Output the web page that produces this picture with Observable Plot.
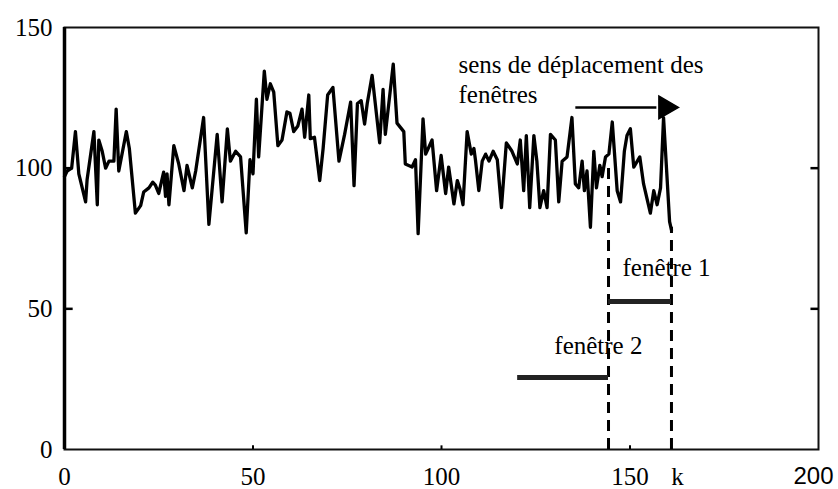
<!DOCTYPE html>
<html>
<head>
<meta charset="utf-8">
<script src="https://cdn.jsdelivr.net/npm/d3@7"></script>
<script src="https://cdn.jsdelivr.net/npm/@observablehq/plot@0.6"></script>
<style>
  html, body { margin: 0; padding: 0; background: #fff; }
</style>
</head>
<body>
<div id="chart"></div>
<script>
// Series: sample index (x) and value (y)
const seriesX = [0,0.7,1.9,2.9,3.8,5.6,6.0,7.8,8.7,9.1,10.0,10.9,11.8,13.1,13.7,14.4,16.4,17.2,18.8,20.2,21.0,22.4,23.4,24.1,25.0,26.3,26.8,27.2,27.7,29.0,30.3,31.7,32.5,33.9,34.8,36.9,38.3,40.5,41.8,43.2,44.0,45.4,46.7,48.2,49.2,50.0,50.9,51.5,53.0,53.7,54.6,55.5,56.6,57.7,59.0,59.8,60.8,61.9,63.0,63.7,64.8,65.2,66.3,67.7,68.6,69.8,71.2,72.8,74.3,75.9,76.8,77.7,78.7,79.6,80.3,81.6,83.6,84.5,85.1,87.2,88.2,90.0,90.4,92.2,93.1,93.8,95.1,95.8,97.5,98.7,99.9,101.1,101.9,103.3,104.2,104.9,105.7,106.8,107.9,108.6,109.0,109.9,110.8,111.7,112.6,113.7,114.8,115.9,117.2,118.7,120.1,120.9,121.8,122.5,123.4,124.5,125.3,126.1,127.1,128.0,128.9,130.2,131.1,132.0,133.3,134.6,135.5,136.4,137.3,137.9,138.6,139.5,140.4,141.1,142.0,142.6,143.5,144.4,145.3,146.6,147.5,148.5,149.2,150.1,151.0,152.6,153.6,155.4,156.3,157.2,158.1,158.9,160.5,161.0];
const seriesY = [97,99,100,113,98,88,96,113,87,110,106,100,102.5,102.5,121,99,113,107,84,86.7,91.5,93,95,94,91,98.6,90,98,87,108,101.5,92,101,93,99,118,80,112,88,114,102.5,106,104,77,103,98,124.5,104,134.5,124.5,130,127,108,110,120,119.5,113,115,121,111,126,110.5,111,95.6,107,126,128.7,102.5,112,123.5,93.8,123,124,115.7,123,133,109,128,112,137,116,113,101.5,100.4,103,76.7,117.5,105,110,92,104.5,91,100.4,87.3,95.6,92.6,87,113,105,107,103,92,102.5,105,102.5,106,103,86,109,106,101.5,110,92,111.6,86,111.6,102.5,86,92,86,112,110,88,102.5,104,118,94.4,93,102.5,92,99,79,106,93,101,97,104,105,116.4,92,88,106,111.6,114,100.4,104,94.4,84,92,87,93,118,81,78];

// Axis ticks and labels
const yTickValues = [0, 50, 100, 150];
const yTickLabels = ["0", "50", "100", "150"];
const xTickValues = [0, 50, 100, 150, 162.6];
const xTickLabels = ["0", "50", "100", "150", "k"];
const xEndValue = [200];
const xEndLabel = ["200"];

// Windows (fenêtres): start, end, level
const windowNames = ["fenêtre 1", "fenêtre 2"];
const windowStart = [144.3, 120.2];
const windowEnd = [161, 144.3];
const windowLevel = [52.6, 25.6];

// Dashed boundaries: position and top value
const boundaryX = [144.3, 161];
const boundaryTop = [100, 79];

const series = seriesX.map((x, i) => ({x, y: seriesY[i]}));
const windows = windowNames.map((name, i) => ({name, x1: windowStart[i], x2: windowEnd[i], y: windowLevel[i]}));
const boundaries = boundaryX.map((x, i) => ({x, top: boundaryTop[i]}));

const serif = "'Liberation Serif', 'DejaVu Serif', serif";
const sans = "'Liberation Sans', Arial, sans-serif";

const chart = Plot.plot({
  width: 838,
  height: 489,
  marginLeft: 64,
  marginRight: 20,
  marginTop: 27,
  marginBottom: 40,
  x: {domain: [0, 200], axis: null},
  y: {domain: [0, 150], axis: null},
  style: {fontFamily: serif, background: "#fff", color: "#000"},
  marks: [
    Plot.frame({stroke: "#111", strokeWidth: 2}),
    Plot.ruleX([0], {stroke: "#000", strokeWidth: 3.5}),
    // inner ticks
    Plot.ruleY([50, 100], {x1: 0, x2: 2.3, stroke: "#000", strokeWidth: 2.5}),
    Plot.ruleY([50, 100], {x1: 198, x2: 200, stroke: "#000", strokeWidth: 2.5}),
    Plot.ruleX([50, 100, 150], {y1: 0, y2: 1.3, stroke: "#000", strokeWidth: 2}),
    // dashed boundaries
    Plot.ruleX(boundaries, {x: "x", y1: 0, y2: "top", stroke: "#000", strokeWidth: 3, strokeDasharray: "11,7"}),
    // window bars
    Plot.ruleY(windows, {x1: "x1", x2: "x2", y: "y", stroke: "#222", strokeWidth: 5}),
    // series
    Plot.line(series, {x: "x", y: "y", stroke: "#000", strokeWidth: 3.3, strokeLinejoin: "round"}),
    // direction arrow
    Plot.link([0], {x1: 135.5, x2: 157, y1: 121.6, y2: 121.6, stroke: "#000", strokeWidth: 2.5}),
    Plot.dot([0], {x: 159.4, y: 121.6, symbol: "triangle", r: 8.4, rotate: 90, fill: "#000", stroke: "#000"}),
    Plot.text(["sens de déplacement des"], {x: 104.5, y: 133.8, text: d => d, textAnchor: "start", lineAnchor: "bottom", fontSize: 25}),
    Plot.text(["fenêtres"], {x: 104.5, y: 123.1, text: d => d, textAnchor: "start", lineAnchor: "bottom", fontSize: 25}),
    Plot.text(windows.slice(0, 1), {x: 148, y: 61.5, text: "name", textAnchor: "start", lineAnchor: "bottom", fontSize: 25}),
    Plot.text(windows.slice(1, 2), {x: 153.3, y: 34.1, text: "name", textAnchor: "end", lineAnchor: "bottom", fontSize: 25}),
    // tick labels
    Plot.text(yTickValues, {x: 0, y: d => d, text: (d, i) => yTickLabels[i], textAnchor: "end", dx: -12, fontSize: 25}),
    Plot.text(xTickValues, {x: d => d, y: 0, text: (d, i) => xTickLabels[i], dy: 27, fontSize: 25}),
    Plot.text(xEndValue, {x: d => d, y: 0, text: (d, i) => xEndLabel[i], dy: 27, dx: -5, fontSize: 24, fontFamily: sans})
  ]
});
document.getElementById("chart").appendChild(chart);
</script>
</body>
</html>
